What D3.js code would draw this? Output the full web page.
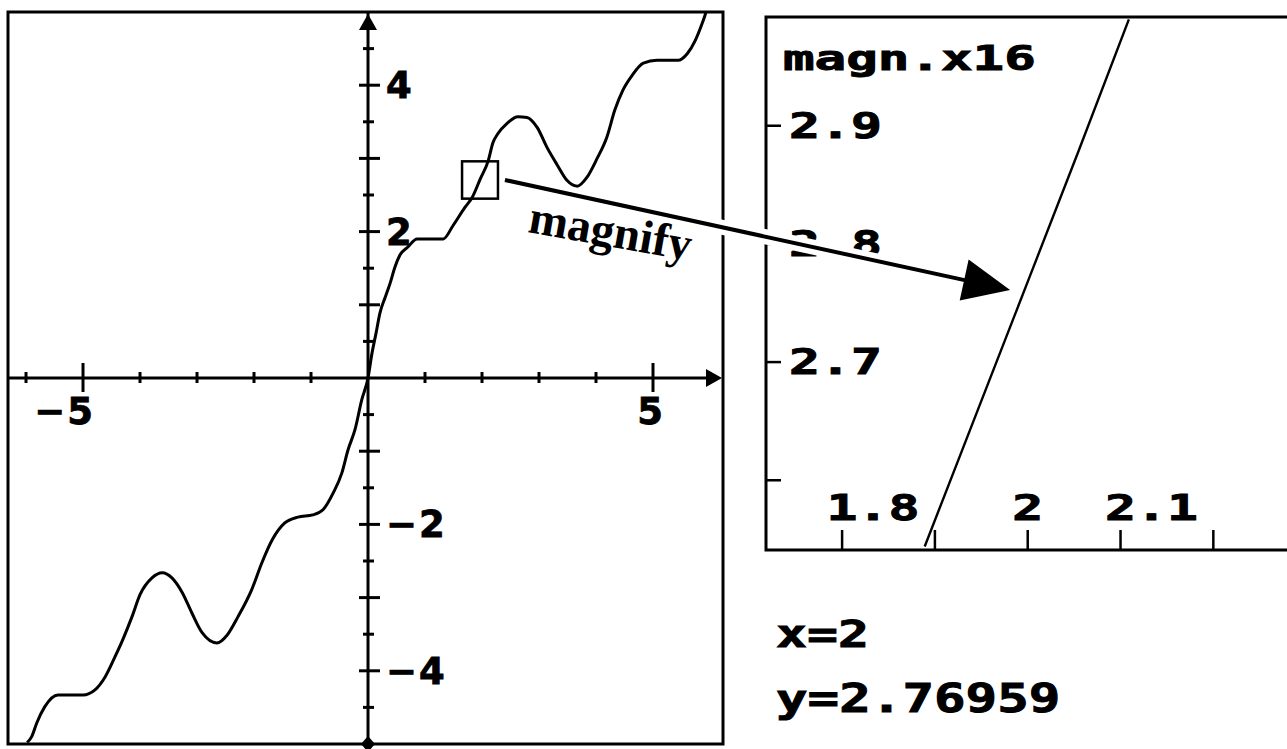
<!DOCTYPE html>
<html>
<head>
<meta charset="utf-8">
<script src="https://cdn.jsdelivr.net/npm/d3@7"></script>
<style>
  body { margin: 0; background: #fff; }
  svg { display: block; }
</style>
</head>
<body>
<svg id="chart" width="1287" height="749"></svg>
<script>
// main graph: points
var curveX = [-5.98, -5.90, -5.81, -5.67, -5.44, -5.00, -4.79, -4.61, -4.44, -4.30, -4.14, -4.00,
  -3.79, -3.61, -3.44, -3.26, -3.09, -2.91, -2.65, -2.47, -2.28, -2.04, -1.86, -1.68, -1.46,
  -1.23, -0.97, -0.79, -0.61, -0.46, -0.35, -0.23, -0.11, 0,
  0.07, 0.14, 0.21, 0.30, 0.39, 0.47, 0.56, 0.70, 0.86, 1.32, 1.49, 1.70, 1.83, 1.97, 2.11,
  2.19, 2.28, 2.44, 2.63, 2.79, 2.97, 3.14, 3.32, 3.49, 3.67, 3.84, 4.02, 4.19, 4.33, 4.47,
  4.63, 4.83, 5.07, 5.44, 5.60, 5.74, 5.86, 5.91, 5.95];
var curveY = [-4.98, -4.90, -4.71, -4.49, -4.33, -4.33, -4.26, -4.08, -3.81, -3.57, -3.26, -2.96,
  -2.73, -2.66, -2.73, -2.93, -3.21, -3.48, -3.62, -3.51, -3.26, -2.89, -2.52, -2.21, -1.98,
  -1.90, -1.87, -1.80, -1.57, -1.30, -0.98, -0.71, -0.30, 0,
  0.34, 0.61, 0.89, 1.10, 1.30, 1.51, 1.68, 1.79, 1.90, 1.90, 2.08, 2.33, 2.47, 2.72, 2.97,
  3.21, 3.34, 3.48, 3.57, 3.56, 3.42, 3.15, 2.91, 2.70, 2.62, 2.74, 3.00, 3.29, 3.66, 3.93,
  4.13, 4.30, 4.34, 4.34, 4.43, 4.61, 4.84, 4.95, 5.05];
var xTicks = [-6, -5, -4, -3, -2, -1, 1, 2, 3, 4, 5, 6];
var xMajor = [-5, 5];
var yTicks = [-4.5, -4, -3.5, -3, -2.5, -2, -1.5, -1, -0.5, 0.5, 1, 1.5, 2, 2.5, 3, 3.5, 4, 4.5];
var yLabels = [4, 2, -2, -4];
var xLabels = [-5, 5];
var zoomBoxX = [1.65, 2.28];
var zoomBoxY = [2.45, 2.96];

// magnified window
var magX = [1.889, 1.945, 2.001, 2.055, 2.109];
var magY = [2.544, 2.657, 2.770, 2.879, 2.990];
var magXTicks = [1.8, 1.9, 2, 2.1, 2.2];
var magXLabels = ["1.8", "2", "2.1"];
var magYTicks = [2.6, 2.7, 2.8, 2.9];
var magYLabels = ["2.7", "2.8", "2.9"];
var magnification = 16;
var cursorX = 2;
var cursorY = 2.76959;

var svg = d3.select("#chart");
var minus = function(v){ return (v < 0 ? "\u2212" : "") + Math.abs(v); };

// ---- left panel
var L = {left: 8, right: 723, top: 12, bottom: 744};
var x = d3.scaleLinear().domain([-6.316, 6.228]).range([L.left, L.right]);
var y = d3.scaleLinear().domain([-5, 5]).range([L.bottom, L.top]);

var defs = svg.append("defs");
defs.append("clipPath").attr("id", "clipL").append("rect")
  .attr("x", L.left).attr("y", L.top).attr("width", L.right - L.left).attr("height", L.bottom - L.top);

var gl = svg.append("g");
var x0 = x(0), y0 = y(0);

gl.append("line").attr("x1", L.left).attr("x2", L.right - 14).attr("y1", y0).attr("y2", y0)
  .attr("stroke", "#000").attr("stroke-width", 3);
gl.append("line").attr("x1", x0).attr("x2", x0).attr("y1", L.top).attr("y2", L.bottom)
  .attr("stroke", "#000").attr("stroke-width", 3);

// arrow heads on the axes
gl.append("polygon")
  .attr("points", [[L.right - 1, y0], [L.right - 17, y0 - 9], [L.right - 17, y0 + 9]].join(" "))
  .attr("fill", "#000");
gl.append("polygon")
  .attr("points", [[x0, L.top + 2], [x0 - 9, L.top + 18], [x0 + 9, L.top + 18]].join(" "))
  .attr("fill", "#000");
gl.append("polygon")
  .attr("points", [[x0, L.bottom - 8], [x0 + 7, L.bottom], [x0, L.bottom + 8], [x0 - 7, L.bottom]].join(" "))
  .attr("fill", "#000");

xTicks.forEach(function(t){
  var big = xMajor.indexOf(t) >= 0;
  gl.append("line").attr("x1", x(t)).attr("x2", x(t))
    .attr("y1", y0 - (big ? 15 : 6)).attr("y2", y0 + (big ? 14 : 5))
    .attr("stroke", "#000").attr("stroke-width", 3);
});
yTicks.forEach(function(t){
  var big = Number.isInteger(t);
  gl.append("line").attr("y1", y(t)).attr("y2", y(t))
    .attr("x1", x0 - (big ? 9 : 5)).attr("x2", x0 + (big ? 12 : 6))
    .attr("stroke", "#000").attr("stroke-width", 3);
});

yLabels.forEach(function(v){
  gl.append("text").attr("x", x0 + 18).attr("y", y(v) + 13)
    .attr("font-family", "DejaVu Sans").attr("font-weight", "bold").attr("font-size", 37)
    .attr("stroke", "#000").attr("stroke-width", 0.8)
    .attr("letter-spacing", 2).text(minus(v));
});
xLabels.forEach(function(v){
  gl.append("text").attr("x", x(v) + 12).attr("y", y0 + 46)
    .attr("text-anchor", "end")
    .attr("font-family", "DejaVu Sans").attr("font-weight", "bold").attr("font-size", 37)
    .attr("stroke", "#000").attr("stroke-width", 0.8)
    .attr("letter-spacing", 2).text(minus(v));
});

var line = d3.line()
  .x(function(d, i){ return x(curveX[i]); })
  .y(function(d, i){ return y(curveY[i]); })
  .curve(d3.curveMonotoneX);
gl.append("path").datum(curveX).attr("d", line).attr("clip-path", "url(#clipL)")
  .attr("fill", "none").attr("stroke", "#000").attr("stroke-width", 3).attr("stroke-linejoin", "round");

gl.append("rect")
  .attr("x", x(zoomBoxX[0])).attr("y", y(zoomBoxY[1]))
  .attr("width", x(zoomBoxX[1]) - x(zoomBoxX[0]))
  .attr("height", y(zoomBoxY[0]) - y(zoomBoxY[1]))
  .attr("fill", "none").attr("stroke", "#000").attr("stroke-width", 2.5);

gl.append("rect").attr("x", L.left).attr("y", L.top)
  .attr("width", L.right - L.left).attr("height", L.bottom - L.top)
  .attr("fill", "none").attr("stroke", "#000").attr("stroke-width", 3);

// ---- right panel (magnified)
var R = {left: 766, right: 1295, top: 17, bottom: 550};
var mx = d3.scaleLinear().domain([1.718, 2.288]).range([R.left, R.right]);
var my = d3.scaleLinear().domain([2.541, 2.992]).range([R.bottom, R.top]);

defs.append("clipPath").attr("id", "clipR").append("rect")
  .attr("x", R.left).attr("y", R.top).attr("width", R.right - R.left).attr("height", R.bottom - R.top);

var gr = svg.append("g");
var calc = function(g, px, py, str, size, adv){
  return g.append("text").attr("x", px).attr("y", py)
    .attr("font-family", "DejaVu Sans Mono").attr("font-weight", "bold").attr("font-size", size)
    .attr("stroke", "#000").attr("stroke-width", 0.9)
    .attr("textLength", str.length * adv).attr("lengthAdjust", "spacingAndGlyphs")
    .text(str);
};

gr.append("path")
  .attr("d", "M" + R.right + "," + R.top + "H" + R.left + "V" + R.bottom + "H" + R.right)
  .attr("fill", "none").attr("stroke", "#000").attr("stroke-width", 3);

magYTicks.forEach(function(t){
  gr.append("line").attr("x1", R.left).attr("x2", R.left + 15).attr("y1", my(t)).attr("y2", my(t))
    .attr("stroke", "#000").attr("stroke-width", 2.5);
});
magXTicks.forEach(function(t){
  gr.append("line").attr("x1", mx(t)).attr("x2", mx(t)).attr("y1", R.bottom).attr("y2", R.bottom - 20)
    .attr("stroke", "#000").attr("stroke-width", 2.5);
});
magYLabels.forEach(function(s){
  calc(gr, R.left + 23, my(+s) + 12, s, 35, 31);
});
magXLabels.forEach(function(s){
  calc(gr, mx(+s) - 15.5, R.bottom - 30, s, 35, 31);
});
calc(gr, R.left + 17, 70, "magn.x" + magnification, 33, 31.6);

var magLine = d3.line()
  .x(function(d, i){ return mx(magX[i]); })
  .y(function(d, i){ return my(magY[i]); });
gr.append("path").datum(magX).attr("d", magLine).attr("clip-path", "url(#clipR)")
  .attr("fill", "none").attr("stroke", "#000").attr("stroke-width", 2.4);

calc(gr, 776, 647, "x=" + cursorX, 38, 31);
calc(gr, 776, 712, "y=" + cursorY, 39, 31.6);

// ---- "magnify" arrow from the box to the magnified window
var from = [x(zoomBoxX[1]) + 7, y(d3.mean(zoomBoxY))];
var tip = [mx(1.981), my(2.761)];
var len = Math.hypot(tip[0] - from[0], tip[1] - from[1]);
var ux = (tip[0] - from[0]) / len, uy = (tip[1] - from[1]) / len;
var headL = 47, headW = 21;
var base = [tip[0] - ux * headL, tip[1] - uy * headL];

var ga = svg.append("g");
ga.append("line").attr("x1", from[0] + 8 * ux).attr("y1", from[1] + 8 * uy)
  .attr("x2", base[0]).attr("y2", base[1])
  .attr("stroke", "#fff").attr("stroke-width", 15);
ga.append("line").attr("x1", from[0]).attr("y1", from[1])
  .attr("x2", base[0] + ux * 4).attr("y2", base[1] + uy * 4)
  .attr("stroke", "#000").attr("stroke-width", 4);
ga.append("polygon")
  .attr("points", [tip,
    [base[0] - uy * headW, base[1] + ux * headW],
    [base[0] + uy * headW, base[1] - ux * headW]].join(" "))
  .attr("fill", "#000");

ga.append("text")
  .attr("transform", "translate(527,232) rotate(10)")
  .attr("font-family", "Liberation Serif").attr("font-weight", "bold").attr("font-size", 47)
  .text("magnify");
</script>
</body>
</html>
